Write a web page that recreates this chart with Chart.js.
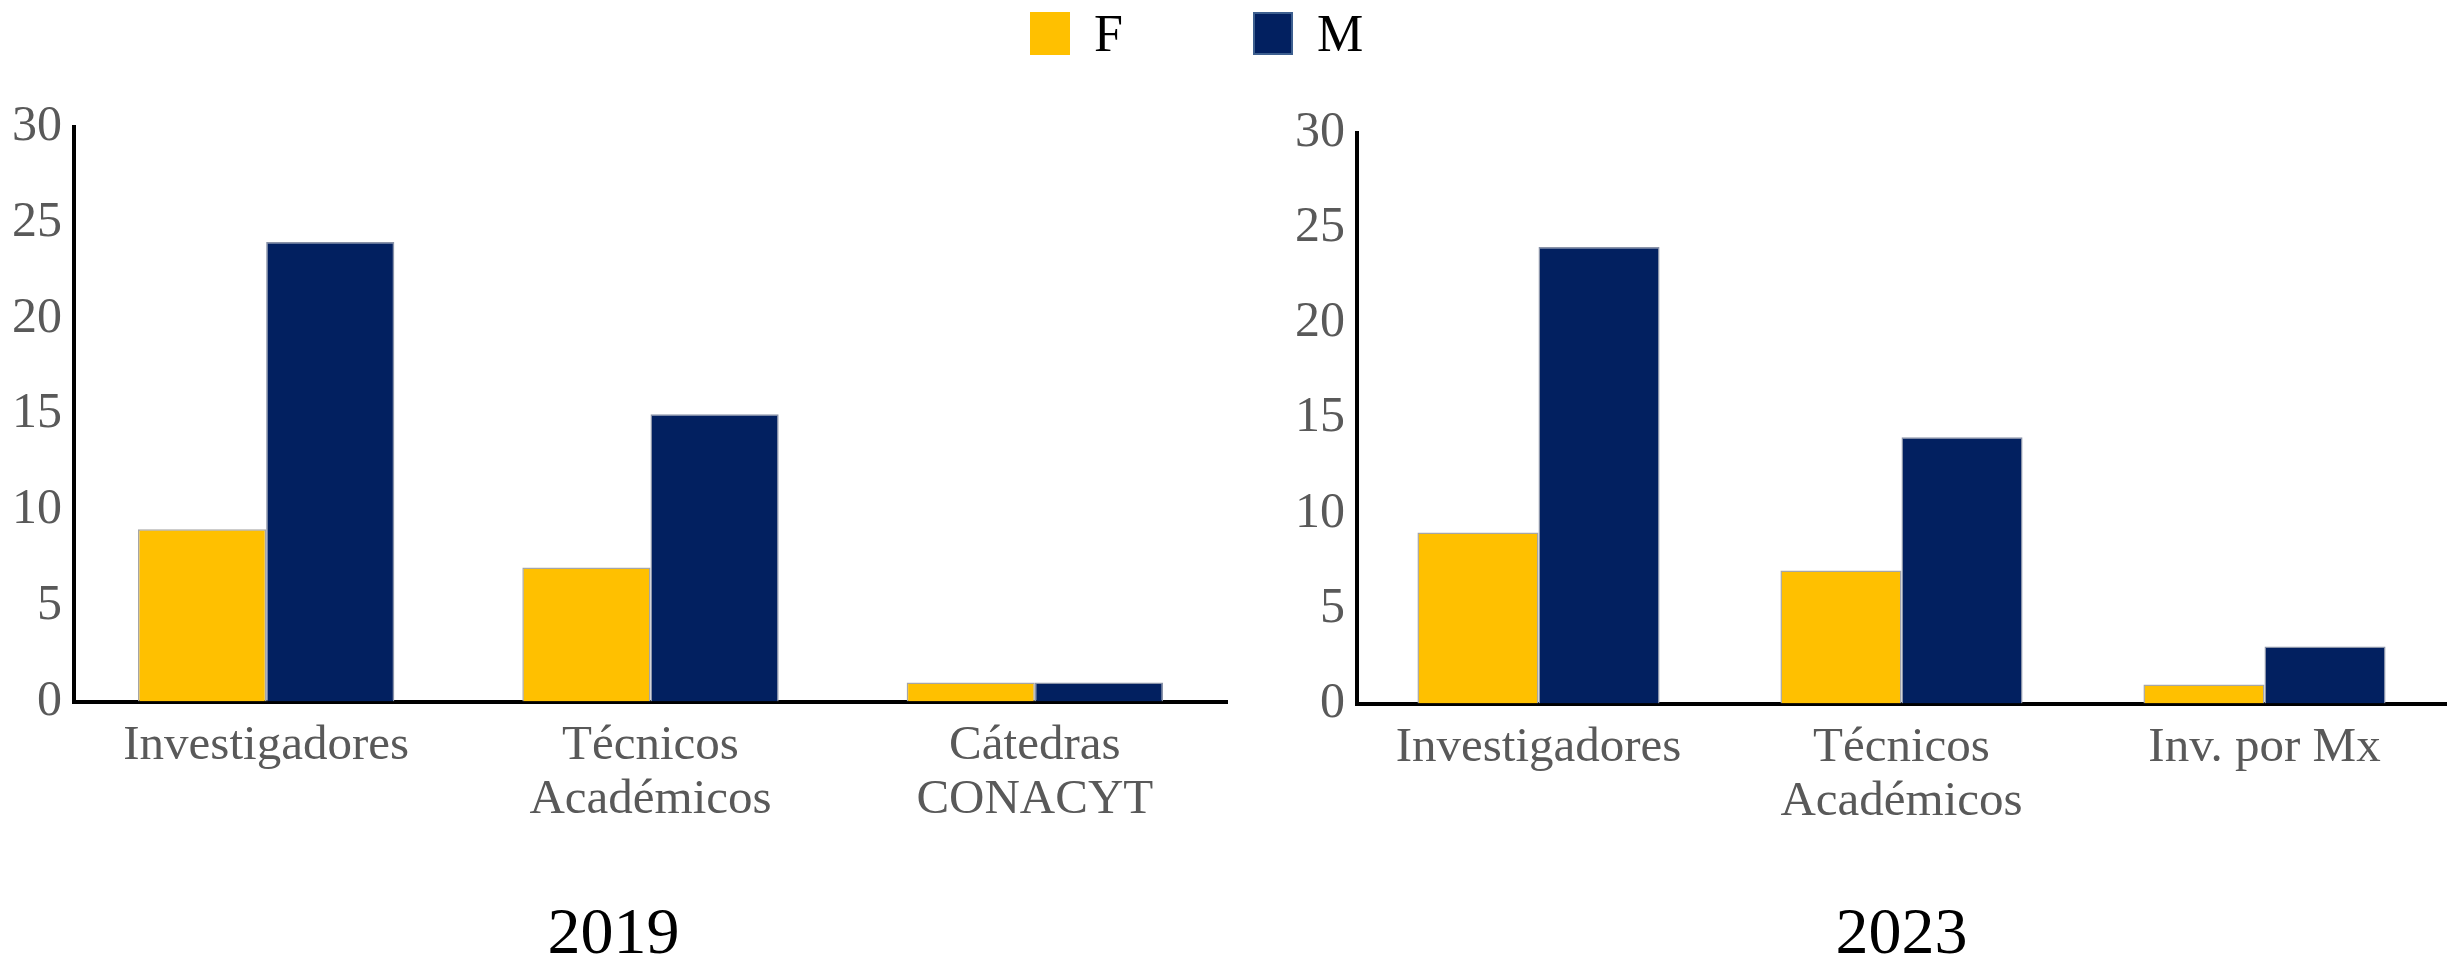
<!DOCTYPE html>
<html>
<head>
<meta charset="utf-8">
<script src="https://cdn.jsdelivr.net/npm/chart.js@4"></script>
<style>
  body { margin: 0; background: #fff; width: 2451px; height: 955px; overflow: hidden; position: relative; }
  .box { position: absolute; top: 0; height: 955px; }
  #legend { position: absolute; left: 1030px; top: 4px; display: flex; font-family: 'Liberation Serif', serif; font-size: 52px; color: #000; }
  #legend .item { display: flex; align-items: center; margin-right: 130px; }
  #legend .swatch { width: 40px; height: 43px; margin-right: 24px; box-sizing: border-box; }
</style>
</head>
<body>
<div id="legend"></div>
<div class="box" style="left:0;width:1240px"><canvas id="chart2019"></canvas></div>
<div class="box" style="left:1250px;width:1201px"><canvas id="chart2023"></canvas></div>
<script>
var seriesNames = ['F', 'M'];
var seriesColors = ['#FFC000', '#022060'];

var labels2019 = ['Investigadores', ['Técnicos', 'Académicos'], ['Cátedras', 'CONACYT']];
var f2019 = [9, 7, 1];
var m2019 = [24, 15, 1];

var labels2023 = ['Investigadores', ['Técnicos', 'Académicos'], 'Inv. por Mx'];
var f2023 = [9, 7, 1];
var m2023 = [24, 14, 3];

var yTicks = [0, 5, 10, 15, 20, 25, 30];

// legend shared by both charts
var legend = document.getElementById('legend');
for (let i = 0; i < seriesNames.length; i++) {
    let item = document.createElement('div');
    item.className = 'item';
    let sw = document.createElement('span');
    sw.className = 'swatch';
    sw.style.background = seriesColors[i];
    if (i == 1) sw.style.border = '2px solid #3d5f8f';
    item.appendChild(sw);
    item.appendChild(document.createTextNode(seriesNames[i]));
    legend.appendChild(item);
}

function makeChart(id, labels, fData, mData, title, pad, titleFull) {
    new Chart(document.getElementById(id), {
        type: 'bar',
        data: {
            labels: labels,
            datasets: [{
                label: seriesNames[0],
                data: fData,
                backgroundColor: seriesColors[0],
                borderColor: '#a6a6a6',
                borderWidth: 1.5
            }, {
                label: seriesNames[1],
                data: mData,
                backgroundColor: seriesColors[1],
                borderColor: '#8a93a8',
                borderWidth: 1.5
            }]
        },
        options: {
            responsive: true,
            maintainAspectRatio: false,
            animation: false,
            layout: { padding: pad },
            datasets: { bar: { categoryPercentage: 0.667, barPercentage: 1.0 } },
            plugins: {
                legend: { display: false },
                tooltip: { enabled: false },
                title: {
                    display: true,
                    text: title,
                    position: 'bottom',
                    fullSize: titleFull,
                    color: '#000',
                    font: { family: 'Liberation Serif', size: 66, weight: 'normal', lineHeight: 0.6 },
                    padding: { top: pad.titleTop, bottom: 0 }
                }
            },
            scales: {
                x: {
                    grid: { display: false, drawTicks: false },
                    border: { display: true, color: '#000', width: 4 },
                    ticks: {
                        color: '#595959',
                        padding: 18,
                        maxRotation: 0,
                        font: { family: 'Liberation Serif', size: 49, lineHeight: 1.1 }
                    }
                },
                y: {
                    min: 0,
                    max: yTicks[yTicks.length - 1],
                    afterBuildTicks: function (s) { s.ticks = yTicks.map(function (v) { return { value: v }; }); },
                    grid: { display: false, drawTicks: false },
                    border: { display: true, color: '#000', width: 4 },
                    ticks: {
                        color: '#595959',
                        padding: 12,
                        font: { family: 'Liberation Serif', size: 50 }
                    }
                }
            }
        }
    });
}

makeChart('chart2019', labels2019, f2019, m2019, '2019', { top: 127, left: 0, right: 13, bottom: 0, titleTop: 70 }, true);
makeChart('chart2023', labels2023, f2023, m2023, '2023', { top: 133, left: 33, right: 5, bottom: 0, titleTop: 68 }, false);
</script>
</body>
</html>
